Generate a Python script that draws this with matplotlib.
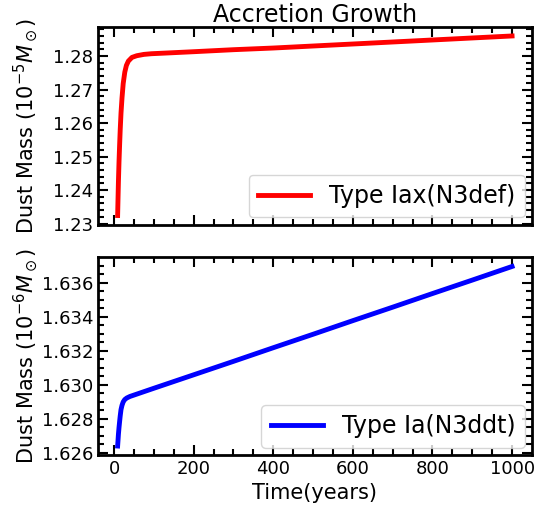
import matplotlib
matplotlib.use('Agg')
import matplotlib.pyplot as plt
from matplotlib.ticker import AutoMinorLocator, MultipleLocator

# time in years
t_iax = [9, 10, 11, 12.5, 14, 15.5, 17.5, 20, 23, 27, 31, 36, 45, 57, 75, 94, 130, 200, 300, 400, 500, 600, 700, 800, 900, 1000]
# dust mass, units of 1e-5 Msun
m_iax = [1.2324, 1.2375, 1.2425, 1.2485, 1.2535, 1.2580, 1.2630, 1.2675, 1.2718, 1.2752, 1.2772, 1.2785,
         1.2796, 1.2801, 1.2805, 1.2807, 1.2809, 1.2813, 1.2819, 1.2824, 1.2830, 1.2836, 1.2842, 1.2848, 1.2854, 1.2860]

t_ia = [9, 10, 11, 12.5, 14, 15.5, 17.5, 20, 23, 27, 32, 40, 100, 200, 300, 400, 500, 600, 700, 800, 900, 1000]
# dust mass, units of 1e-6 Msun
m_ia = [1.62641, 1.62675, 1.62710, 1.62750, 1.62785, 1.62818, 1.62855, 1.62880, 1.62900, 1.62914, 1.62923, 1.62932,
        1.62980, 1.63059, 1.63138, 1.63218, 1.63297, 1.63377, 1.63456, 1.63536, 1.63615, 1.63695]

fig, (ax1, ax2) = plt.subplots(2, 1, sharex=True, figsize=(5.35, 5.15), dpi=100)
fig.subplots_adjust(left=0.183, right=0.994, top=0.9476, bottom=0.1165, hspace=0.167)

ax1.plot(t_iax, m_iax, color='red', lw=3.5, label='Type Iax(N3def)')
ax2.plot(t_ia, m_ia, color='blue', lw=3.5, label='Type Ia(N3ddt)')

ax1.set_title('Accretion Growth', fontsize=17, pad=2)
ax1.set_ylabel(r'Dust Mass (10$^{-5}M_\odot$)', fontsize=15, labelpad=1)
ax2.set_ylabel(r'Dust Mass (10$^{-6}M_\odot$)', fontsize=15, labelpad=1)
ax2.set_xlabel('Time(years)', fontsize=15)

ax1.yaxis.set_major_locator(MultipleLocator(0.01))
ax2.yaxis.set_major_locator(MultipleLocator(0.002))
ax2.xaxis.set_major_locator(MultipleLocator(200))

for ax in (ax1, ax2):
    ax.xaxis.set_minor_locator(AutoMinorLocator(4))
    ax.yaxis.set_minor_locator(AutoMinorLocator())
    ax.tick_params(which='both', direction='in', top=True, right=True, labelsize=13, width=1.5)
    ax.tick_params(which='major', length=7.5)
    ax.tick_params(which='minor', length=4.5)
    for s in ax.spines.values():
        s.set_linewidth(2)
    ax.legend(loc='lower right', fontsize=17, handlelength=2.2, borderaxespad=0.3)

fig.align_ylabels([ax1, ax2])
fig.savefig('out.png', dpi=100)
